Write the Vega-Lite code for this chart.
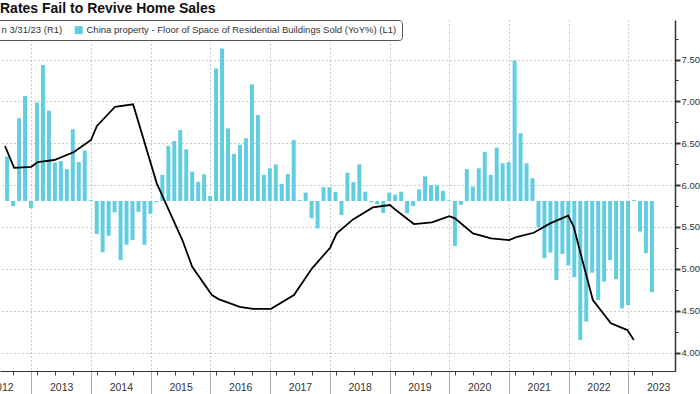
{
  "$schema": "https://vega.github.io/schema/vega-lite/v6.json",
  "width": 675,
  "height": 351,
  "autosize": {"type": "none"},
  "padding": {"left": 0, "top": 20, "right": 25, "bottom": 23},
  "background": "white",
  "title": {"text": "Rates Fail to Revive Home Sales", "orient": "top", "anchor": "start", "frame": "group", "font": "Liberation Sans", "fontSize": 14, "fontWeight": "bold", "color": "#111111", "offset": 4},
  "config": {"view": {"stroke": null}},
  "datasets": {
    "bars": [
      {"t": 2012.595, "v": 14.8}, {"t": 2012.695, "v": -1.7}, {"t": 2012.795, "v": 27.6}, {"t": 2012.895, "v": 35.0}, {"t": 2012.995, "v": -2.4},
      {"t": 2013.095, "v": 32.8}, {"t": 2013.195, "v": 45.3}, {"t": 2013.295, "v": 30.1}, {"t": 2013.395, "v": 12.8}, {"t": 2013.495, "v": 13.3}, {"t": 2013.595, "v": 10.6}, {"t": 2013.695, "v": 23.9}, {"t": 2013.795, "v": 13.0}, {"t": 2013.895, "v": 16.8}, {"t": 2013.995, "v": 0.3},
      {"t": 2014.095, "v": -11.0}, {"t": 2014.195, "v": -17.1}, {"t": 2014.295, "v": -11.6}, {"t": 2014.395, "v": -3.8}, {"t": 2014.495, "v": -19.7}, {"t": 2014.595, "v": -14.6}, {"t": 2014.695, "v": -13.0}, {"t": 2014.795, "v": -3.6}, {"t": 2014.895, "v": -14.6}, {"t": 2014.995, "v": -4.3},
      {"t": 2015.095, "v": -0.4}, {"t": 2015.195, "v": 8.7}, {"t": 2015.295, "v": 18.3}, {"t": 2015.395, "v": 20.0}, {"t": 2015.495, "v": 23.7}, {"t": 2015.595, "v": 17.2}, {"t": 2015.695, "v": 9.8}, {"t": 2015.795, "v": 6.4}, {"t": 2015.895, "v": 8.9}, {"t": 2015.995, "v": 1.7},
      {"t": 2016.095, "v": 44.2}, {"t": 2016.195, "v": 50.8}, {"t": 2016.295, "v": 24.2}, {"t": 2016.395, "v": 15.7}, {"t": 2016.495, "v": 18.7}, {"t": 2016.595, "v": 20.9}, {"t": 2016.695, "v": 38.9}, {"t": 2016.795, "v": 28.7}, {"t": 2016.895, "v": 8.7}, {"t": 2016.995, "v": 10.9},
      {"t": 2017.095, "v": 12.2}, {"t": 2017.195, "v": 5.7}, {"t": 2017.295, "v": 9.0}, {"t": 2017.395, "v": 20.3}, {"t": 2017.495, "v": 0.3}, {"t": 2017.595, "v": 2.8}, {"t": 2017.695, "v": -5.8}, {"t": 2017.795, "v": -9.1}, {"t": 2017.895, "v": 4.6}, {"t": 2017.995, "v": 4.6},
      {"t": 2018.095, "v": 3.0}, {"t": 2018.195, "v": -4.7}, {"t": 2018.295, "v": 9.4}, {"t": 2018.395, "v": 6.3}, {"t": 2018.495, "v": 12.2}, {"t": 2018.595, "v": 3.1}, {"t": 2018.695, "v": -0.4}, {"t": 2018.795, "v": -1.0}, {"t": 2018.895, "v": -4.0}, {"t": 2018.995, "v": 2.8},
      {"t": 2019.095, "v": 2.1}, {"t": 2019.195, "v": 3.1}, {"t": 2019.295, "v": -4.1}, {"t": 2019.395, "v": -1.7}, {"t": 2019.495, "v": 3.9}, {"t": 2019.595, "v": 8.2}, {"t": 2019.695, "v": 5.3}, {"t": 2019.795, "v": 5.2}, {"t": 2019.895, "v": 3.4}, {"t": 2019.995, "v": 0.2},
      {"t": 2020.095, "v": -15.0}, {"t": 2020.195, "v": -1.3}, {"t": 2020.295, "v": 10.6}, {"t": 2020.395, "v": 4.8}, {"t": 2020.495, "v": 10.9}, {"t": 2020.595, "v": 16.4}, {"t": 2020.695, "v": 8.7}, {"t": 2020.795, "v": 17.8}, {"t": 2020.895, "v": 12.6}, {"t": 2020.995, "v": 12.9},
      {"t": 2021.095, "v": 46.8}, {"t": 2021.195, "v": 22.6}, {"t": 2021.295, "v": 12.6}, {"t": 2021.395, "v": 7.6}, {"t": 2021.495, "v": -8.8}, {"t": 2021.595, "v": -19.1}, {"t": 2021.695, "v": -17.2}, {"t": 2021.795, "v": -26.3}, {"t": 2021.895, "v": -17.7}, {"t": 2021.995, "v": -21.5},
      {"t": 2022.095, "v": -25.4}, {"t": 2022.195, "v": -46.3}, {"t": 2022.295, "v": -40.2}, {"t": 2022.395, "v": -23.9}, {"t": 2022.495, "v": -33.0}, {"t": 2022.595, "v": -26.9}, {"t": 2022.695, "v": -19.7}, {"t": 2022.795, "v": -26.1}, {"t": 2022.895, "v": -35.8}, {"t": 2022.995, "v": -34.7},
      {"t": 2023.095, "v": 0.3}, {"t": 2023.195, "v": -10.2}, {"t": 2023.295, "v": -17.4}, {"t": 2023.395, "v": -30.4}
    ],
    "rate": [
      {"t": 2012.559, "v": 6.467}, {"t": 2012.713, "v": 6.207}, {"t": 2013.0, "v": 6.219}, {"t": 2013.109, "v": 6.276}, {"t": 2013.385, "v": 6.3}, {"t": 2013.715, "v": 6.395}, {"t": 2014.0, "v": 6.539}, {"t": 2014.099, "v": 6.706}, {"t": 2014.403, "v": 6.936}, {"t": 2014.705, "v": 6.965}, {"t": 2015.101, "v": 6.021}, {"t": 2015.228, "v": 5.822}, {"t": 2015.53, "v": 5.344}, {"t": 2015.695, "v": 5.025}, {"t": 2016.025, "v": 4.687}, {"t": 2016.135, "v": 4.639}, {"t": 2016.492, "v": 4.547}, {"t": 2016.713, "v": 4.523}, {"t": 2017.015, "v": 4.523}, {"t": 2017.399, "v": 4.687}, {"t": 2017.703, "v": 5.006}, {"t": 2018.005, "v": 5.252}, {"t": 2018.116, "v": 5.424}, {"t": 2018.389, "v": 5.591}, {"t": 2018.72, "v": 5.734}, {"t": 2019.007, "v": 5.762}, {"t": 2019.106, "v": 5.702}, {"t": 2019.408, "v": 5.535}, {"t": 2019.71, "v": 5.555}, {"t": 2020.002, "v": 5.63}, {"t": 2020.096, "v": 5.603}, {"t": 2020.398, "v": 5.424}, {"t": 2020.7, "v": 5.364}, {"t": 2021.003, "v": 5.344}, {"t": 2021.14, "v": 5.383}, {"t": 2021.416, "v": 5.431}, {"t": 2021.69, "v": 5.543}, {"t": 2021.993, "v": 5.634}, {"t": 2022.086, "v": 5.503}, {"t": 2022.185, "v": 5.224}, {"t": 2022.406, "v": 4.627}, {"t": 2022.708, "v": 4.349}, {"t": 2022.983, "v": 4.269}, {"t": 2023.092, "v": 4.149}
    ]
  },
  "encoding": {
    "x": {
      "field": "t",
      "type": "quantitative",
      "scale": {"domain": [2012.5594, 2023.698], "nice": false, "zero": false},
      "axis": {
        "title": null,
        "values": [2012.5, 2012.7, 2013, 2013.1, 2013.4, 2013.5, 2013.7, 2014, 2014.1, 2014.4, 2014.5, 2014.7, 2015, 2015.1, 2015.4, 2015.5, 2015.7, 2016, 2016.1, 2016.4, 2016.5, 2016.7, 2017, 2017.1, 2017.4, 2017.5, 2017.7, 2018, 2018.1, 2018.4, 2018.5, 2018.7, 2019, 2019.1, 2019.4, 2019.5, 2019.7, 2020, 2020.1, 2020.4, 2020.5, 2020.7, 2021, 2021.1, 2021.4, 2021.5, 2021.7, 2022, 2022.1, 2022.4, 2022.5, 2022.7, 2023, 2023.1, 2023.4, 2023.5],
        "labelExpr": "round(datum.value*10)%10==5 ? format(floor(datum.value),'d') : ''",
        "labelFont": "Liberation Sans",
        "labelFontSize": 10.5,
        "labelColor": "#333333",
        "labelPadding": 11,
        "labelFlush": false,
        "labelOverlap": false,
        "labelBound": false,
        "tickSize": {"condition": [{"test": "round(datum.value*10)%10==0", "value": 24}, {"test": "round(datum.value*10)%10==5", "value": 0}], "value": 4},
        "tickColor": {"condition": {"test": "round(datum.value*10)%10==0", "value": "#aaaaaa"}, "value": "#444444"},
        "grid": true,
        "gridColor": "#999999",
        "gridDash": [1, 3],
        "gridOpacity": {"condition": {"test": "round(datum.value*10)%10==0", "value": 1}, "value": 0},
        "domainColor": "#333333"
      }
    }
  },
  "layer": [
    {
      "data": {"name": "bars"},
      "mark": {"type": "bar", "size": 4},
      "encoding": {
        "y": {"field": "v", "type": "quantitative", "scale": {"domain": [-56.67, 60.33], "nice": false, "zero": false}, "axis": null},
        "color": {
          "datum": "China property - Floor of Space of Residential Buildings Sold (YoY%) (L1)",
          "type": "nominal",
          "scale": {"domain": ["n 3/31/23 (R1)", "China property - Floor of Space of Residential Buildings Sold (YoY%) (L1)"], "range": ["#000000", "#62cde0"]},
          "legend": {"title": null, "orient": "none", "legendX": -16, "legendY": 0, "direction": "horizontal", "symbolType": "square", "symbolSize": 64, "labelFont": "Liberation Sans", "labelFontSize": 9.5, "labelColor": "#333333", "labelLimit": 600, "columnPadding": 11, "labelOffset": 3, "padding": 5, "fillColor": "#ffffff", "strokeColor": "#555555", "cornerRadius": 3, "symbolStrokeWidth": 0}
        }
      }
    },
    {
      "data": {"name": "rate"},
      "mark": {"type": "line", "strokeWidth": 1.8},
      "encoding": {
        "y": {
          "field": "v",
          "type": "quantitative",
          "scale": {"domain": [3.78, 7.972], "nice": false, "zero": false},
          "axis": {
            "orient": "right",
            "title": null,
            "values": [4, 4.25, 4.5, 4.75, 5, 5.25, 5.5, 5.75, 6, 6.25, 6.5, 6.75, 7, 7.25, 7.5, 7.75],
            "labelExpr": "round(datum.value*4)%2==0 ? format(datum.value,'.2f') : ''",
            "labelFont": "Liberation Sans",
            "labelFontSize": 9.5,
            "labelColor": "#333333",
            "labelPadding": 1,
            "tickSize": {"condition": {"test": "round(datum.value*4)%2==0", "value": 5}, "value": 3},
            "tickWidth": {"condition": {"test": "round(datum.value*4)%2==0", "value": 2}, "value": 1},
            "tickColor": "#333333",
            "grid": true,
            "gridColor": "#999999",
            "gridDash": [1, 3],
            "gridOpacity": {"condition": {"test": "round(datum.value*4)%2==0", "value": 1}, "value": 0},
            "domainColor": "#333333",
            "domainWidth": 1.5
          }
        },
        "color": {"datum": "n 3/31/23 (R1)", "type": "nominal"}
      }
    }
  ],
  "resolve": {"scale": {"y": "independent"}}
}
